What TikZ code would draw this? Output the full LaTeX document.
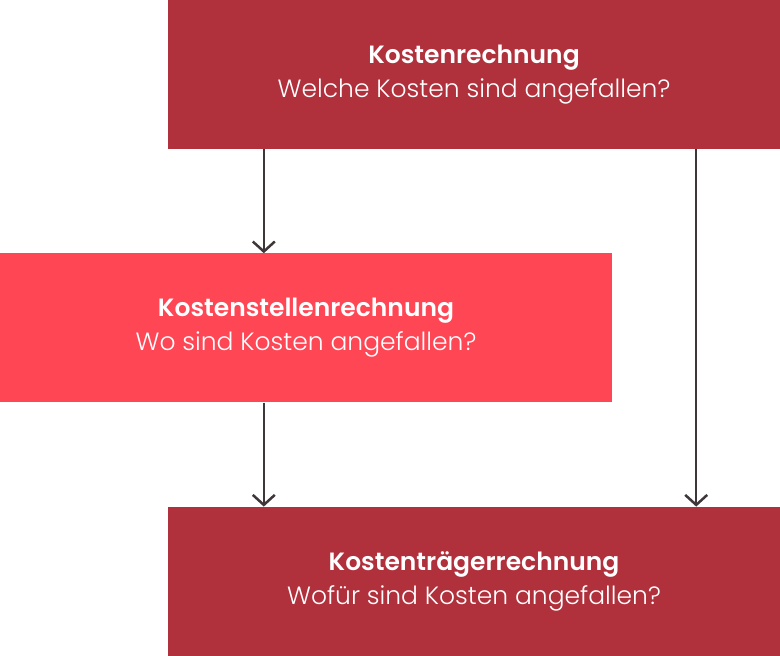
\documentclass[tikz,border=0pt]{standalone}
\usepackage{fontspec}
\setmainfont{Poppins}[UprightFont=* Light,BoldFont=* SemiBold]
\usetikzlibrary{arrows.meta,positioning,calc}
\definecolor{darkred}{HTML}{B0303C}
\definecolor{lightred}{HTML}{FF4655}
\definecolor{arrowgrey}{HTML}{3E3638}

\begin{document}
\begin{tikzpicture}[x=1pt,y=1pt,
				box/.style={minimum width=612pt,minimum height=149pt,inner sep=0pt,
					text=white,align=center,font=\fontsize{25}{34}\selectfont},
				arr/.style={-{Straight Barb[length=10pt,width=22pt,line width=2.5pt]},
					draw=arrowgrey,line width=2.5pt}]
				\useasboundingbox (0,0) rectangle (780,-656);
				\node[box,fill=darkred]   (kr) at (474,-74.5) {\textbf{Kostenrechnung}\\Welche Kosten sind angefallen?};
				\node[box,fill=lightred]  (ksr) [below = 104pt of kr, xshift=-168pt] {\textbf{Kostenstellenrechnung}\\Wo sind Kosten angefallen?};
				\node[box,fill=darkred]   (ktr) [below = 104pt of ksr, xshift=168pt] {\textbf{Kostenträgerrechnung}\\Wofür sind Kosten angefallen?};
				
				\coordinate (a) at ($(kr.south west)+(96pt,0)$);
				\coordinate (b) at ($(kr.south east)+(-84pt,0)$);
				\draw[arr] (a) -- (a |- ksr.north);
				\draw[arr] (b) -- (b |- ktr.north);
				\draw[arr] (a |- ksr.south) -- (a |- ktr.north);
			\end{tikzpicture}
\end{document}
